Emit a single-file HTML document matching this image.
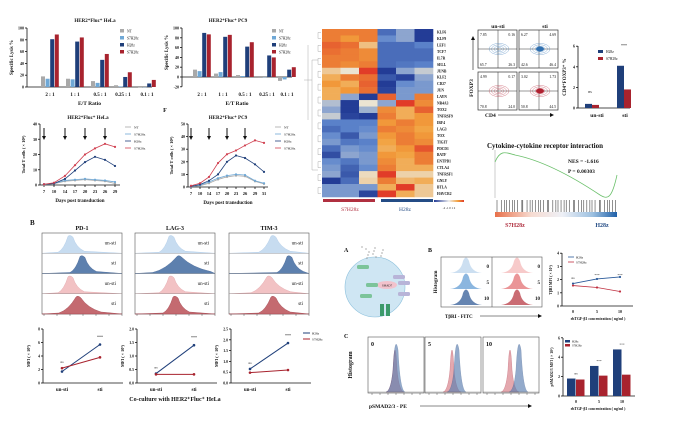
<!DOCTYPE html>
<html><head><meta charset="utf-8"><style>
html,body{margin:0;padding:0;background:#fff;width:687px;height:429px;overflow:hidden}
svg{display:block;font-family:"Liberation Serif",serif}
</style></head><body>
<svg id="s" width="687" height="429" viewBox="0 0 687 429" xmlns="http://www.w3.org/2000/svg"></svg>
<script>
const S=document.getElementById('s');const NS='http://www.w3.org/2000/svg';
function e(t,a,txt){const n=document.createElementNS(NS,t);for(const k in a)n.setAttribute(k,a[k]);if(txt!==undefined)n.textContent=txt;S.appendChild(n);return n;}
function T(x,y,s,size,opt){opt=opt||{};return e('text',Object.assign({x:x,y:y,'font-size':size,'font-weight':opt.w||'bold','text-anchor':opt.a||'middle',fill:opt.f||'#111'},opt.tr?{transform:opt.tr}:{}),s);}
function L(x1,y1,x2,y2,c,w,extra){return e('line',Object.assign({x1,y1,x2,y2,stroke:c||'#111','stroke-width':w||0.8},extra||{}));}
const GR='#a9a9a9',LB='#6fa8d6',DB='#1f3f7a',RD='#a8232e';
function barChart(x0,x1,y0,sc,ymin,ymax,step,groups,vals,title,tx,lgx,lgy){
  T(tx,22,title,5);
  L(x0,y0-(ymax)*sc,x0,y0-(ymin)*sc);L(x0,y0,x1,y0);
  for(let v=ymin;v<=ymax;v+=step){const y=y0-v*sc;L(x0-2,y,x0,y);T(x0-3,y+1.5,String(v),4,{a:'end'});}
  const cols=[GR,LB,DB,RD];
  groups.forEach((g,i)=>{vals[i].forEach((v,j)=>{const bx=g-9+j*4.6;const h=v*sc;e('rect',{x:bx,y:v>=0?y0-h:y0,width:4,height:Math.abs(h)||0.3,fill:cols[j]});});});
  T((x0+x1)/2,105,'E/T Ratio',5.5);
  T(x0-14,(y0-ymax*sc+y0)/2,'Specific Lysis %',5,{tr:`rotate(-90 ${x0-14} ${(y0-ymax*sc+y0)/2})`});
  ['NT','S7H28z','H28z','S7H28z'].forEach((n,j)=>{e('rect',{x:lgx,y:lgy+j*7,width:4,height:3.5,fill:cols[j]});T(lgx+7,lgy+j*7+3.5,n,3.6,{a:'start',w:'normal'});});
}
barChart(27,152,87,0.59,0,100,20,[50,75,100,123,147],[[18,14,81,89],[14,13,77,84],[10,7,46,56],[3,1,17,25],[0,0,6,12]],'HER2\u207aFluc\u207a HeLa',95,120,29);
['2 : 1','1 : 1','0.5 : 1','0.25 : 1','0.1 : 1'].forEach((l,i)=>T([50,75,100,123,147][i],96,l,5));
barChart(182,292,77,0.49,-20,100,20,[202,223,245,267,287],[[15,12,90,87],[7,10,82,86],[4,2,62,71],[-2,0,44,40],[-8,-5,15,20]],'HER2\u207aFluc\u207a PC9',228,272,29);
['2 : 1','1 : 1','0.5 : 1','0.25 : 1','0.1 : 1'].forEach((l,i)=>T([202,223,245,267,287][i],96,l,5));
function lineChart(x0,x1,y0,ytop,ymax,step,xs,series,title,tx,days,lgx,arrows){
  T(tx,119,title,5);
  L(x0,ytop,x0,y0);L(x0,y0,x1,y0);
  const sc=(y0-ytop)/ymax;
  for(let v=0;v<=ymax;v+=step){const y=y0-v*sc;L(x0-2,y,x0,y);T(x0-3,y+1.5,String(v),4,{a:'end'});}
  days.forEach((d,i)=>{L(xs[i],y0,xs[i],y0+2);T(xs[i],y0+8,String(d),4.5);});
  T((x0+x1)/2,y0+17,'Days post transduction',5);
  T(x0-15,(y0+ytop)/2,'Total T cells ( \u00d7 10\u2076)',4.5,{tr:`rotate(-90 ${x0-15} ${(y0+ytop)/2})`});
  const cols=[GR,LB,DB,'#d04050'];const names=['NT','S7H28z','H28z','S7H28z'];
  series.forEach((s,j)=>{e('polyline',{points:s.map((v,i)=>xs[i]+','+(y0-v*sc)).join(' '),fill:'none',stroke:cols[j],'stroke-width':0.8});s.forEach((v,i)=>e('circle',{cx:xs[i],cy:y0-v*sc,r:1.1,fill:cols[j]}));
    L(lgx,127+j*7,lgx+6,127+j*7,cols[j],0.8);T(lgx+9,128.5+j*7,names[j],3.5,{a:'start',w:'normal'});});
  arrows.forEach(x=>{L(x,128,x,138,'#111',1);e('polygon',{points:`${x-2},136 ${x+2},136 ${x},140`,fill:'#111'});});
}
lineChart(40,120,185,124,40,10,[44,54,65,75,85,95,105,115],[[0.3,0.8,2.5,3,3.5,3,2.5,1],[0.5,1,3,3.5,4,3.5,3,2],[0.5,1,4,9.5,15,18.5,16.5,12.5],[0.5,1.5,6,13,20,24,27,25]],'HER2\u207aFluc\u207a HeLa',88,[7,10,14,17,20,23,26,29],125,[44,65,85,105]);
lineChart(188,268,187,124,50,10,[191,200,209,218,227,236,245,255,264],[[0.3,1,3,6,8,9,8.5,4.5,2.5],[0.5,1.5,4,7,9,10,9.5,5,3],[0.5,2,5,10,20,25,23,18,12],[1,3,8,19,26,29,33,37,35]],'HER2\u207aFluc\u207a PC9',228,[7,10,14,17,20,23,26,29,31],275,[191,209,227,245]);
T(165,112,'F',6);
const genes=['KLF6','KLF9','LEF1','TCF7','IL7R','SELL','JUNB','KLF2','CD27','JUN','LAYN','NR4A3','TOX2','TNFRSF9','IRF4','LAG3','TOX','TIGIT','PDCD1','BATF','ENTPD1','CTLA4','TNFRSF1','GNLY','BTLA','HAVCR2'];
const H=[[1,1,1,-1,-0.5,-1.7],[1,0.8,1,-0.7,-0.5,-1.6],[1.2,1.1,0.4,-1,-1,-0.8],[1.1,1,0.9,-1,-1,-1],[1,1,0.9,-1,-1,-1],[1,0.9,1,-1,-0.9,-0.8],[0.3,0,1.8,-1.6,-0.5,-0.2],[0.6,1,1.1,-1.2,-1.4,-0.5],[0.8,0.6,1.2,-1.5,-0.7,-0.6],[0.6,0.8,1.1,-1.4,-0.6,-0.6],[0.6,-0.5,-1.6,1.2,-0.6,1],[-0.3,-1.6,0,-0.5,1.6,0.9],[-0.5,-1.5,-0.4,0.9,0.6,1.2],[-0.2,-1.4,-1.6,1,0.6,0.8],[-0.8,-0.8,-0.8,0.8,1,0.8],[-1,-0.8,-0.7,1,0.9,0.7],[-0.7,-1.2,-0.6,0.8,1,0.8],[-0.6,-0.9,-0.8,0.7,1,0.9],[-1,-0.6,-0.7,0.6,0.8,1.3],[-1.3,-0.5,-0.6,0.8,0.7,1],[-0.7,-0.9,-0.6,0.9,0.6,1],[-0.6,-1.1,-0.7,1,0.6,0.6],[-0.5,-1.2,0.1,1.8,0.2,0.2],[-1.7,-1,0.2,1,0.5,0.6],[-0.6,-0.6,-0.6,0.6,1.6,0.3],[-0.6,-0.6,-1.4,1.5,0.6,0.3]];
function hc(v){v*=1.35;const stops=[[-2,[35,60,150]],[-1,[95,135,205]],[0,[235,228,210]],[1,[242,160,60]],[2,[225,60,40]]];v=Math.max(-2,Math.min(2,v));for(let i=0;i<4;i++){const[a,ca]=stops[i],[b,cb]=stops[i+1];if(v<=b){const t=(v-a)/(b-a);return `rgb(${ca.map((c,k)=>Math.round(c+(cb[k]-c)*t)).join(',')})`;}}}
const hx=322,hy=29,cw=18.5,ch=6.46;
H.forEach((r,i)=>{r.forEach((v,j)=>e('rect',{x:hx+j*cw,y:hy+i*ch,width:cw+0.3,height:ch+0.3,fill:hc(v)}));T(437,hy+i*ch+4.5,genes[i],3.6,{a:'start'});});
for(let i=0;i<26;i+=2){const y=hy+i*ch+ch;L(318,y-3,321,y-3,'#999',0.4);L(318,y-3,318,y+3,'#999',0.4);L(318,y+3,321,y+3,'#999',0.4);}
L(312,60,312,170,'#999',0.4);L(308,45,308,120,'#999',0.4);L(312,60,318,60,'#999',0.4);L(312,170,318,170,'#999',0.4);L(304,80,312,80,'#999',0.4);
e('rect',{x:323,y:199,width:52,height:3,fill:'#b03040'});e('rect',{x:381,y:199,width:52,height:3,fill:'#244c85'});
T(350,211,'S7H28z',5.5,{f:'#b03040',w:'normal'});T(405,211,'H28z',5.5,{f:'#244c85',w:'normal'});
const g=e('linearGradient',{id:'cs'});[['0','#233c96'],['0.5','#eee'],['0.8','#f2a03c'],['1','#e03c28']].forEach(([o,c])=>{const st=document.createElementNS(NS,'stop');st.setAttribute('offset',o);st.setAttribute('stop-color',c);g.appendChild(st);});
const defs=e('defs',{});defs.appendChild(g);
e('rect',{x:434,y:200,width:30,height:2,fill:'url(#cs)'});T(449,209,'-2  -1  0  1  2',3,{w:'normal'});
T(498,28,'un-sti',5.5);T(545,28,'sti',5.5);
const qn=[['7.85','0.16','65.7','26.3'],['6.27','4.69','42.6','46.4'],['4.99','0.17','70.8','24.0'],['3.02','1.73','50.8','44.5']];
[[478,30],[519,30],[478,72],[519,72]].forEach(([x,y],k)=>{e('rect',{x:x,y:y,width:39,height:38,fill:'#fff',stroke:'#333','stroke-width':0.7});L(x+20,y,x+20,y+38,'#333',0.5);L(x,y+19,x+39,y+19,'#333',0.5);
  const c=k<2?'#4a86c0':'#c04050';for(let r=1;r<=4;r++)e('ellipse',{cx:x+21,cy:y+19,rx:r*2.5,ry:r*1.4,fill:'none',stroke:c,'stroke-width':0.4,opacity:0.8});
  if(k==1)e('ellipse',{cx:x+21,cy:y+19,rx:4,ry:2.5,fill:'#3070b0'});if(k==3)e('ellipse',{cx:x+21,cy:y+19,rx:4,ry:2.5,fill:'#b02030'});
  const q=qn[k];T(x+2,y+6,q[0],3.8,{a:'start',w:'normal'});T(x+37,y+6,q[1],3.8,{a:'end',w:'normal'});T(x+2,y+36,q[2],3.8,{a:'start',w:'normal'});T(x+37,y+36,q[3],3.8,{a:'end',w:'normal'});});
T(473,88,'FOXP3',5.5,{tr:'rotate(-90 473 88)'});L(473,70,473,38,'#111',0.6);e('polygon',{points:'471,40 475,40 473,36',fill:'#111'});
T(485,117,'CD4',5.5,{a:'start'});L(498,115,552,115,'#111',0.6);e('polygon',{points:'550,113 550,117 554,115',fill:'#111'});
L(578,46,578,108);L(578,108,630,108);[0,2,4,6].forEach(v=>{const y=108-v*10.3;L(576,y,578,y);T(575,y+1.5,String(v),4,{a:'end'});});
[[585,0.4,DB],[592,0.3,RD],[617,4.1,DB],[624,1.8,RD]].forEach(([x,v,c])=>e('rect',{x:x,y:108-v*10.3,width:7,height:v*10.3,fill:c}));
T(597,117,'un-sti',5.5);T(625,117,'sti',5.5);T(566,77,'CD4\u207aFOXP3\u207a %',5,{tr:'rotate(-90 566 77)'});
e('rect',{x:598,y:50,width:5,height:3,fill:DB});T(606,53,'H28z',3.6,{a:'start',w:'normal'});e('rect',{x:598,y:57,width:5,height:3,fill:RD});T(606,60,'S7H28z',3.6,{a:'start',w:'normal'});
T(624,47,'***',4,{w:'normal'});T(590,93,'ns',4,{w:'normal'});
T(487,148,'Cytokine-cytokine receptor interaction',7,{a:'start'});
L(495,150,495,198,'#999',0.5);
e('path',{d:'M495,162 C500,150 505,152 515,155 C540,160 570,175 600,195 C608,200 612,198 617,175',fill:'none',stroke:'#6cc06c','stroke-width':0.8});
T(568,163,'NES = -1.616',5.5,{a:'start'});T(568,173,'P = 0.00303',5.5,{a:'start',f:'#111'});
for(let i=0;i<70;i++){const x=497+i*1.72+((i*7)%3)*0.4;if((i*13)%5<3)L(x,200,x,212,'#222',0.5);}
const g2=e('linearGradient',{id:'gs'});[['0','#e8704a'],['0.3','#f7dcd2'],['0.55','#eef0f6'],['0.8','#9cc0e0'],['1','#2060a8']].forEach(([o,c])=>{const st=document.createElementNS(NS,'stop');st.setAttribute('offset',o);st.setAttribute('stop-color',c);g2.appendChild(st);});defs.appendChild(g2);
e('rect',{x:495,y:212,width:122,height:5,fill:'url(#gs)'});
T(515,227,'S7H28z',6,{f:'#b03040'});T(602,227,'H28z',6,{f:'#244c85'});
T(30,225,'B',7,{a:'start'});
const hpan=[[42,'PD-1',[[0.35,1],[0.5,1],[0.35,1],[0.45,1.6]]],[135,'LAG-3',[[0.45,1],[0.55,2.2],[0.45,1],[0.5,1]]],[229,'TIM-3',[[0.55,1.2],[0.75,1],[0.5,1.5],[0.55,1.2]]]];
const hcol=['#c7dcf0','#5d80ae','#f2c2c4','#c46a70'];const hst=['#a8c6e6','#3c5e90','#e0a0a5','#9a3a44'];
hpan.forEach(([x,t,pk])=>{T(x+40,230,t,6);e('rect',{x:x,y:233,width:80,height:81,fill:'none',stroke:'#555','stroke-width':0.6});
  pk.forEach(([c,wd],r)=>{const yb=233+(r+1)*20.25;const cx=x+c*80;const w=6*wd;
   e('path',{d:`M${x},${yb} L${cx-w*2},${yb-1} Q${cx-w},${yb-4} ${cx-2},${yb-17} Q${cx},${yb-19} ${cx+3},${yb-16} Q${cx+w},${yb-6} ${cx+w*2.4},${yb-2} L${x+80},${yb} Z`,fill:hcol[r],stroke:hst[r],'stroke-width':0.4});
   if(r<3)L(x,yb,x+80,yb,'#888',0.4);T(x+74,yb-9,r%2?'sti':'un-sti',5,{a:'end',w:'normal'});});
  for(let i=0;i<7;i++)L(x+i*13+2,314,x+i*13+2,316,'#333',0.4);});
const lp=[[43,8,2,[1.7,5.7],[2.2,3.8]],[137,2,0.5,[0.35,1.4],[0.32,0.32]],[231,2.5,0.5,[0.65,1.85],[0.48,0.6]]];
lp.forEach(([x,ym,st,b,r])=>{L(x,329,x,383);L(x,383,x+80,383);for(let v=0;v<=ym+1e-9;v+=st){const y=383-v/ym*54;L(x-2,y,x,y);T(x-3,y+1.5,(ym<4?v.toFixed(1):String(v)),3.8,{a:'end'});}
  const xs=[x+19,x+57];e('polyline',{points:`${xs[0]},${383-b[0]/ym*54} ${xs[1]},${383-b[1]/ym*54}`,fill:'none',stroke:DB,'stroke-width':1});
  e('polyline',{points:`${xs[0]},${383-r[0]/ym*54} ${xs[1]},${383-r[1]/ym*54}`,fill:'none',stroke:RD,'stroke-width':1});
  [0,1].forEach(i=>{e('circle',{cx:xs[i],cy:383-b[i]/ym*54,r:1.3,fill:DB});e('circle',{cx:xs[i],cy:383-r[i]/ym*54,r:1.3,fill:RD});});
  T(xs[0],391,'un-sti',5);T(xs[1],391,'sti',5);T(xs[0],383-Math.max(b[0],r[0])/ym*54-5,'ns',3.5,{w:'normal'});T(xs[1],383-b[1]/ym*54-6,'***',4,{w:'normal'});
  T(x-13,356,'MFI ( \u00d7 10\u00b3)',4.2,{tr:`rotate(-90 ${x-13} 356)`});});
L(303,333,310,333,DB,1);T(312,334.5,'H28z',3.3,{a:'start',w:'normal'});L(303,339,310,339,RD,1);T(312,340.5,'S7H28z',3.3,{a:'start',w:'normal'});
T(175,401,'Co-culture with HER2\u207aFluc\u207a HeLa',6);
T(344,252,'A',6,{a:'start'});T(428,252,'B',6,{a:'start'});T(344,338,'C',6,{a:'start'});
e('circle',{cx:375,cy:287,r:30,fill:'#cfe6f3',stroke:'#8cc0dc','stroke-width':0.6});
e('ellipse',{cx:387,cy:285,rx:10,ry:4,fill:'#f2c2cc'});T(387,286.5,'SMAD7',3,{w:'normal'});
[[363,267],[372,285],[366,296],[399,277],[404,283],[404,294]].forEach(([x,y],i)=>e('rect',{x:x-6,y:y-2,width:12,height:4,rx:1.5,fill:i<3?'#7cc49a':'#b8b4d8'}));
e('rect',{x:380,y:304,width:4,height:12,fill:'#3c9a6a'});e('rect',{x:386,y:304,width:4,height:12,fill:'#3c9a6a'});
for(let i=0;i<12;i++)e('circle',{cx:362+(i*7)%22,cy:247+(i*5)%12,r:0.6,fill:'#777'});
e('rect',{x:441,y:257,width:101,height:50,fill:'none',stroke:'#555','stroke-width':0.6});L(492,257,492,307,'#555',0.6);
[[466,['#c7dcf0','#7eaedc','#5578a8']],[517,['#f6c4c4','#e88a8c','#c45c64']]].forEach(([cx,cs])=>{cs.forEach((c,r)=>{const yb=273+r*16;e('path',{d:`M${cx-16},${yb} Q${cx-5},${yb-1} ${cx-3},${yb-12} Q${cx},${yb-19} ${cx+3},${yb-12} Q${cx+5},${yb-1} ${cx+16},${yb} Z`,fill:c,opacity:0.9});});
  ['0','5','10'].forEach((t,r)=>T(cx+23,268+r*16,t,5,{a:'end'}));});
T(437,282,'Histogram',5,{tr:'rotate(-90 437 282)'});T(445,318,'T\u03b2RI - FITC',5,{a:'start'});L(480,316,540,316,'#111',0.5);
e('polygon',{points:'538,314 538,318 542,316',fill:'#111'});
L(562,253,562,306);L(562,306,633,306);[0,1,2,3,4].forEach(v=>{const y=306-v*13.2;L(560,y,562,y);T(559,y+1.5,String(v),3.8,{a:'end'});});
const tx=[573,597,620];
e('polyline',{points:tx.map((x,i)=>x+','+(306-[1.7,2.05,2.2][i]*13.2)).join(' '),fill:'none',stroke:'#2a5a9a','stroke-width':0.8});
e('polyline',{points:tx.map((x,i)=>x+','+(306-[1.55,1.4,1.1][i]*13.2)).join(' '),fill:'none',stroke:'#c03040','stroke-width':0.8});
tx.forEach((x,i)=>{e('circle',{cx:x,cy:306-[1.7,2.05,2.2][i]*13.2,r:1.1,fill:'#2a5a9a'});e('circle',{cx:x,cy:306-[1.55,1.4,1.1][i]*13.2,r:1.1,fill:'#c03040'});T(x,313,['0','5','10'][i],4);T(x,i?276:279,i?'***':'ns',3.5,{w:'normal'});});T(598,320,'rhTGF-\u03b21 concentration ( ng/ml )',3.8);
L(568,257,574,257,'#2a5a9a',0.8);T(576,258.5,'H28z',3.3,{a:'start',w:'normal'});L(568,262,574,262,'#c03040',0.8);T(576,263.5,'S7H28z',3.3,{a:'start',w:'normal'});
T(552,280,'T\u03b2RI MFI ( \u00d7 10\u00b3)',3.8,{tr:'rotate(-90 552 280)'});
[[368,'0',0],[425,'5',1],[483,'10',2]].forEach(([x,t,k])=>{e('rect',{x:x,y:337,width:56,height:56,fill:'none',stroke:'#555','stroke-width':0.6});T(x+3,346,t,6,{a:'start'});
  const cr=x+27,cb=x+27+k*4;
  e('path',{d:`M${cr-9},392 Q${cr-4},391 ${cr-2},370 Q${cr},330 ${cr+2},370 Q${cr+4},391 ${cr+9},392 Z`,fill:'#e09aa0',opacity:0.85,stroke:'#c06070','stroke-width':0.4});
  e('path',{d:`M${cb-9},392 Q${cb-4},391 ${cb-2},370 Q${cb},332 ${cb+3},350 Q${cb+5},391 ${cb+10},392 Z`,fill:'#5a7eb0',opacity:0.65,stroke:'#34568a','stroke-width':0.4});
  L(x,392,x+56,392,'#777',0.4);
  for(let i=0;i<7;i++)L(x+4+i*8,393,x+4+i*8,395,'#333',0.4);});
T(352,365,'Histogram',6,{tr:'rotate(-90 352 365)'});T(369,408,'pSMAD2/3 - PE',5.5,{a:'start'});L(420,406,530,406,'#111',0.5);e('polygon',{points:'528,404 528,408 532,406',fill:'#111'});
L(563,338,563,396);L(563,396,635,396);[0,2,4,6].forEach(v=>{const y=396-v*9.7;L(561,y,563,y);T(560,y+1.5,String(v),3.8,{a:'end'});});
[[0,1.8,1.7],[1,3.1,2.1],[2,4.8,2.2]].forEach(([i,b,r])=>{const x=567+i*23;e('rect',{x:x,y:396-b*9.7,width:8.5,height:b*9.7,fill:DB});e('rect',{x:x+9,y:396-r*9.7,width:8.5,height:r*9.7,fill:RD});T(x+9,403,['0','5','10'][i],4);T(x+9,396-b*9.7-4,i?'***':'ns',3.5,{w:'normal'});});
T(598,410,'rhTGF-\u03b21 concentration ( ng/ml )',3.8);
e('rect',{x:565,y:340,width:5,height:2.5,fill:DB});T(572,342.5,'H28z',3,{a:'start',w:'normal'});e('rect',{x:565,y:344,width:5,height:2.5,fill:RD});T(572,346.5,'S7H28z',3,{a:'start',w:'normal'});
T(553,367,'pSMAD2/3 MFI ( \u00d7 10\u00b3)',3.8,{tr:'rotate(-90 553 367)'});
</script>
</body></html>
